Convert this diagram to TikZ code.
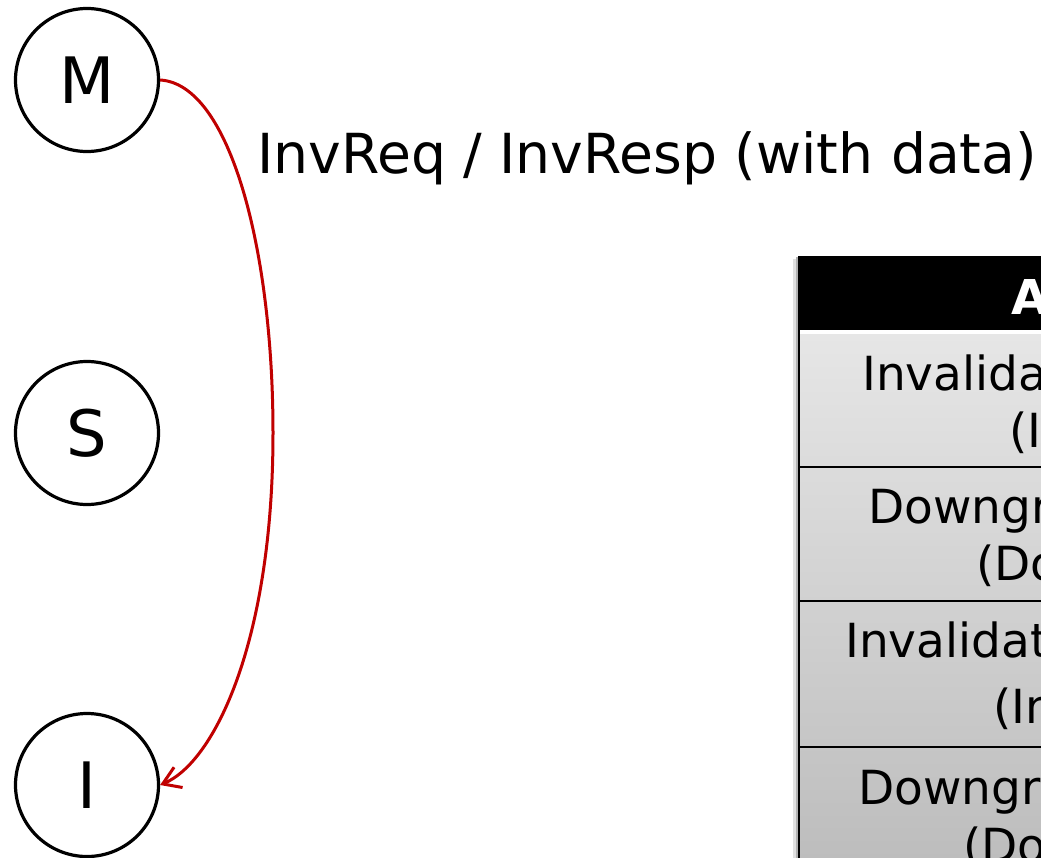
\documentclass[tikz,border=0pt]{standalone}
\usepackage{fontspec}
\setmainfont{DejaVu Sans}
\usetikzlibrary{arrows.meta}
\definecolor{arrowred}{HTML}{C00000}
\definecolor{rowtop}{HTML}{E6E6E6}
\definecolor{rowbot}{HTML}{BDBDBD}
\tikzset{
  state/.style={circle, draw=black, line width=3.2pt, minimum size=143pt, inner sep=0pt,
    font=\fontsize{64}{70}\selectfont},
  trans/.style={draw=arrowred, line width=3pt, -{Straight Barb[length=17pt,width=22pt]}},
  lbl/.style={anchor=base west, inner sep=0pt, font=\fontsize{55.2}{60}\selectfont},
  tabtxt/.style={anchor=base west, inner sep=0pt, font=\fontsize{47}{56}\selectfont},
  headtxt/.style={anchor=base west, inner sep=0pt, text=white, font=\fontsize{48}{56}\selectfont\bfseries},
  divider/.style={draw=black, line width=2.5pt}
}
\begin{document}
\begin{tikzpicture}[x=1pt,y=-1pt]
\useasboundingbox (0,0) rectangle (1041,857);
\fill[white] (0,0) rectangle (1041,857);

% states
\node[state] (M) at (87,80) {M};
\node[state] (S) at (87,433) {S};
\node[state] (I) at (87,785) {I};

% transition
\coordinate (mid) at (273,433);
\draw[trans] (M.east) .. controls (230,84) and (273,250) .. (mid)
  .. controls (273,640) and (215,762) .. (I.east);

\node[lbl] (lab) at (257,173) {InvReq / InvResp (with data)};

% table (cut by the picture's edge)
\begin{scope}
\clip (0,0) rectangle (1041,857);
\fill[black!12] (793,259) rectangle (796,860);
\fill[black!30] (796,257) rectangle (798,860);
\fill[black] (798,256) rectangle (1050,330);
\shade[top color=rowtop, bottom color=rowbot] (798,334) rectangle (1050,860);
\draw[draw=black, line width=2pt] (799,330) -- (799,860);
\draw[divider] (798,467) -- (1050,467);
\draw[divider] (798,601) -- (1050,601);
\draw[divider] (798,747) -- (1050,747);
\node[headtxt] (h) at (1011,314) {Action};
\node[tabtxt] (r1a) at (862,390) {Invalidate Request};
\node[tabtxt] (r1b) at (1009,447) {(InvReq)};
\node[tabtxt] (r2a) at (868,523) {Downgrade Request};
\node[tabtxt] (r2b) at (976,580) {(DownReq)};
\node[tabtxt] (r3a) at (845,657) {Invalidate Response};
\node[tabtxt] (r3b) at (993,723) {(InvResp)};
\node[tabtxt] (r4a) at (858,804) {Downgrade Response};
\node[tabtxt] (r4b) at (963,862) {(DownResp)};
\end{scope}
\end{tikzpicture}
\end{document}
